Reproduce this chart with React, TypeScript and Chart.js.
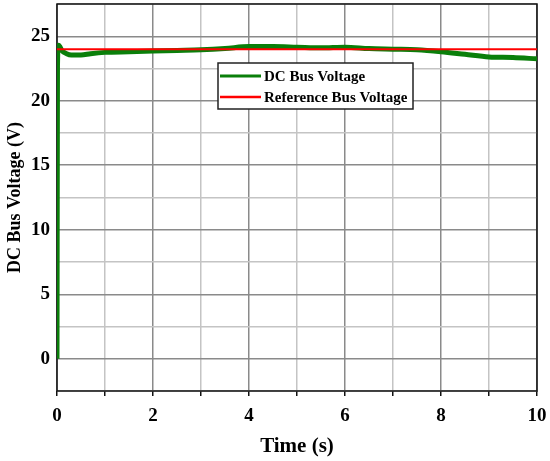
import React, { useEffect, useRef } from "react";
import { Chart, registerables } from "chart.js";

Chart.register(...registerables);

const timeS = [0, 0.01, 0.03, 0.06, 0.1, 0.2, 0.3, 0.5, 0.7, 1.0, 1.5, 2.0, 2.5, 3.0, 3.5, 4.0, 4.5, 5.0, 5.5, 6.0, 6.5, 7.0, 7.5, 8.0, 8.5, 9.0, 9.5, 10.0];
const dcBusVoltage = [0, 22.7, 24.3, 24.2, 23.9, 23.65, 23.55, 23.55, 23.65, 23.75, 23.8, 23.85, 23.9, 23.95, 24.05, 24.2, 24.2, 24.15, 24.1, 24.15, 24.05, 24.0, 23.95, 23.8, 23.6, 23.4, 23.35, 23.25];
const refTime = [0, 10];
const refVoltage = [24, 24];
const legendLabels = ["DC Bus Voltage", "Reference Bus Voltage"];
const seriesColors = ["#0a7f0a", "#ff0000"];

const SERIF = "'Liberation Serif', 'Times New Roman', serif";

const boxPlugin = {
  id: "boxPlugin",
  beforeDatasetsDraw(chart: any) {
    const { ctx, chartArea } = chart;
    ctx.save();
    ctx.strokeStyle = "#111";
    ctx.lineWidth = 1.5;
    ctx.strokeRect(chartArea.left, chartArea.top, chartArea.right - chartArea.left, chartArea.bottom - chartArea.top);
    ctx.restore();
  },
  afterDraw(chart: any) {
    const { ctx, chartArea } = chart;
    const x0 = chartArea.left + 161;
    const y0 = chartArea.top + 59;
    const w = 195;
    const h = 46;
    ctx.save();
    ctx.fillStyle = "#fff";
    ctx.fillRect(x0, y0, w, h);
    ctx.strokeStyle = "#222";
    ctx.lineWidth = 1.5;
    ctx.strokeRect(x0, y0, w, h);
    ctx.font = `bold 15px ${SERIF}`;
    ctx.textBaseline = "middle";
    legendLabels.forEach((lbl, i) => {
      const y = y0 + 13 + i * 21;
      ctx.strokeStyle = seriesColors[i];
      ctx.lineWidth = i === 0 ? 3 : 2.5;
      ctx.beginPath();
      ctx.moveTo(x0 + 2, y);
      ctx.lineTo(x0 + 43, y);
      ctx.stroke();
      ctx.fillStyle = "#000";
      ctx.fillText(lbl, x0 + 46, y + 1);
    });
    ctx.restore();
  },
};

export default function App() {
  const ref = useRef<HTMLCanvasElement | null>(null);
  useEffect(() => {
    document.body.style.margin = "0";
    const c = ref.current!;
    const chart = new Chart(c, {
      type: "line",
      data: {
        datasets: [
          {
            label: legendLabels[1],
            data: refTime.map((t, i) => ({ x: t, y: refVoltage[i] })),
            borderColor: seriesColors[1],
            borderWidth: 2,
            pointRadius: 0,
            order: 0,
          },
          {
            label: legendLabels[0],
            data: timeS.map((t, i) => ({ x: t, y: dcBusVoltage[i] })),
            borderColor: seriesColors[0],
            borderWidth: 5,
            pointRadius: 0,
            cubicInterpolationMode: "monotone",
            order: 1,
          },
        ],
      },
      options: {
        animation: false,
        responsive: false,
        devicePixelRatio: 1,
        layout: { padding: { top: 4, right: 13, left: 0, bottom: 0 } },
        plugins: { legend: { display: false }, tooltip: { enabled: false } },
        scales: {
          x: {
            type: "linear",
            min: 0,
            max: 10,
            afterFit: (s: any) => { s.height = 70; s.paddingLeft = 0; s.paddingRight = 0; },
            ticks: {
              stepSize: 1,
              autoSkip: false,
              maxRotation: 0,
              padding: 9,
              color: "#000",
              font: { family: SERIF, weight: "bold", size: 19 },
              callback: (v: any) => (Number(v) % 2 === 0 ? String(v) : ""),
            },
            grid: {
              color: (ctx: any) => (ctx.tick && ctx.tick.value % 2 === 0 ? "#8a8a8a" : "#c4c4c4"),
              lineWidth: 1.5,
              tickLength: 5,
              tickColor: "#111",
            },
            border: { display: false },
            title: {
              display: true,
              text: "Time (s)",
              color: "#000",
              font: { family: SERIF, weight: "bold", size: 21 },
              padding: { top: 2, bottom: 2 },
            },
          },
          y: {
            type: "linear",
            min: -2.5,
            max: 27.5,
            afterFit: (s: any) => { s.width = 57; s.paddingTop = 0; s.paddingBottom = 0; },
            ticks: {
              stepSize: 2.5,
              autoSkip: false,
              padding: 7,
              color: "#000",
              font: { family: SERIF, weight: "bold", size: 19 },
              callback: (v: any) => (Number(v) % 5 === 0 ? String(v) : ""),
            },
            grid: {
              color: (ctx: any) => (ctx.tick && ctx.tick.value % 5 === 0 ? "#8a8a8a" : "#c4c4c4"),
              lineWidth: 1.5,
              drawTicks: false,
            },
            border: { display: false },
            title: {
              display: true,
              text: "DC Bus Voltage (V)",
              color: "#000",
              font: { family: SERIF, weight: "bold", size: 18 },
              padding: { top: 5, bottom: 0 },
            },
          },
        },
      },
      plugins: [boxPlugin],
    });
    return () => chart.destroy();
  }, []);
  return (
    <div style={{ width: 550, height: 461 }}>
      <canvas ref={ref} width={550} height={461} style={{ display: "block" }} />
    </div>
  );
}
